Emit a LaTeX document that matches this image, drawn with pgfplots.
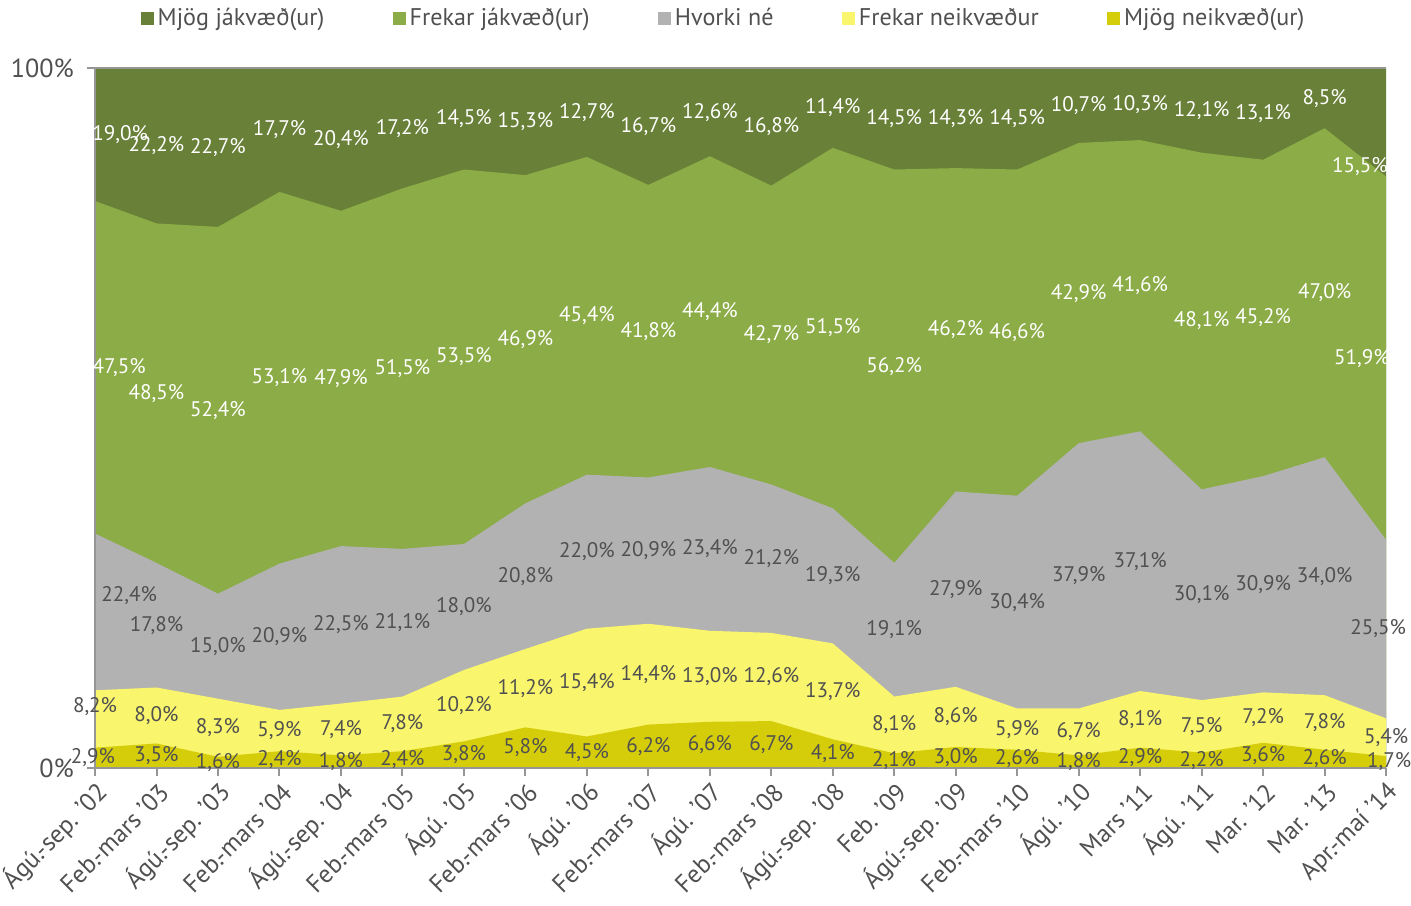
\documentclass[border=0pt]{standalone}
\usepackage{pgfplots}
\pgfplotsset{compat=1.18}
\usepackage{pgfplotstable}
\usepackage{fontspec}
\setmainfont{PT Sans}
\definecolor{cMJ}{RGB}{104,128,55}
\definecolor{cFJ}{RGB}{139,172,70}
\definecolor{cHN}{RGB}{178,178,178}
\definecolor{cFN}{RGB}{249,245,108}
\definecolor{cMN}{RGB}{214,205,10}
\definecolor{cTxt}{RGB}{80,80,80}
\definecolor{cAx}{RGB}{150,150,150}

\pgfplotstableread{
x a b c d e
0 2.9 8.2 22.4 47.5 19.0
1 3.5 8.0 17.8 48.5 22.2
2 1.6 8.3 15.0 52.4 22.7
3 2.4 5.9 20.9 53.1 17.7
4 1.8 7.4 22.5 47.9 20.4
5 2.4 7.8 21.1 51.5 17.2
6 3.8 10.2 18.0 53.5 14.5
7 5.8 11.2 20.8 46.9 15.3
8 4.5 15.4 22.0 45.4 12.7
9 6.2 14.4 20.9 41.8 16.7
10 6.6 13.0 23.4 44.4 12.6
11 6.7 12.6 21.2 42.7 16.8
12 4.1 13.7 19.3 51.5 11.4
13 2.1 8.1 19.1 56.2 14.5
14 3.0 8.6 27.9 46.2 14.3
15 2.6 5.9 30.4 46.6 14.5
16 1.8 6.7 37.9 42.9 10.7
17 2.9 8.1 37.1 41.6 10.3
18 2.2 7.5 30.1 48.1 12.1
19 3.6 7.2 30.9 45.2 13.1
20 2.6 7.8 34.0 47.0 8.5
21 1.7 5.4 25.5 51.9 15.5
}\data

\pgfplotsset{
  lbl/.style={draw=none, mark=none, forget plot, point meta=explicit,
    nodes near coords={\pgfmathprintnumber[fixed,fixed zerofill,precision=1,use comma]{\pgfplotspointmeta}\%},
    every node near coord/.append style={anchor=center, inner sep=0pt, text=#1,
      font=\fontsize{10.5}{12}\selectfont}},
  area/.style={fill=#1, draw=none}
}
% #1 colour, #2 y position, #3 meta column, #4 shift at first point, #5 shift at last point
\newcommand\lblplot[5]{%
  \addplot[lbl=#1, restrict x to domain=0.5:20.5] table[x=x, y expr=#2, meta=#3] {\data};
  \addplot[lbl=#1, restrict x to domain=-0.5:0.5, every node near coord/.append style={#4}] table[x=x, y expr=#2, meta=#3] {\data};
  \addplot[lbl=#1, restrict x to domain=20.5:21.5, every node near coord/.append style={#5}] table[x=x, y expr=#2, meta=#3] {\data};
}

\begin{document}
\begin{tikzpicture}
\begin{axis}[
  scale only axis, width=642.6pt, height=348.4pt,
  xmin=0, xmax=21, ymin=0, ymax=100,
  clip=false, axis on top,
  /pgf/number format/assume math mode=true,
  axis x line*=bottom, axis y line*=left,
  axis line style={cAx, line width=1pt},
  ymajorgrids, grid style={cAx, line width=1pt},
  tick align=outside, major tick length=4pt,
  tick style={cAx, line width=1pt},
  xtick={0,...,21},
  xticklabels={Ágú.-sep. '02,Feb.-mars '03,Ágú.-sep. '03,Feb.-mars '04,Ágú.-sep. '04,Feb.-mars '05,Ágú. '05,Feb.-mars '06,Ágú. '06,Feb.-mars '07,Ágú. '07,Feb.-mars '08,Ágú.-sep. '08,Feb. '09,Ágú.-sep. '09,Feb.-mars '10,Ágú. '10,Mars '11,Ágú. '11,Mar. '12,Mar. '13,Apr.-maí '14},
  xticklabel style={rotate=45, anchor=east, text=cTxt, font=\fontsize{12.5}{13}\selectfont, yshift=-7pt, xshift=2pt},
  ytick={0,100}, yticklabels={0\%,100\%},
  yticklabel style={text=cTxt, font=\fontsize{13}{14}\selectfont, xshift=-3pt},
  legend columns=5,
  legend style={at={(0.5,1)}, anchor=south, yshift=15.5pt, xshift=-8pt, draw=none, fill=none,
    text=cTxt, font=\fontsize{12}{13}\selectfont,
    nodes={inner sep=2pt},
    /tikz/every even column/.append style={column sep=32pt}},
  legend image code/.code={\fill[#1] (0pt,-3.25pt) rectangle (6.5pt,3.25pt);},
]
\addplot[area=cMJ] table[x=x, y expr=\thisrow{a}+\thisrow{b}+\thisrow{c}+\thisrow{d}+\thisrow{e}] {\data} \closedcycle;
\addlegendentry{Mjög jákvæð(ur)}
\addplot[area=cFJ] table[x=x, y expr=\thisrow{a}+\thisrow{b}+\thisrow{c}+\thisrow{d}] {\data} \closedcycle;
\addlegendentry{Frekar jákvæð(ur)}
\addplot[area=cHN] table[x=x, y expr=\thisrow{a}+\thisrow{b}+\thisrow{c}] {\data} \closedcycle;
\addlegendentry{Hvorki né}
\addplot[area=cFN] table[x=x, y expr=\thisrow{a}+\thisrow{b}] {\data} \closedcycle;
\addlegendentry{Frekar neikvæður}
\addplot[area=cMN] table[x=x, y=a] {\data} \closedcycle;
\addlegendentry{Mjög neikvæð(ur)}

\lblplot{cTxt}{\thisrow{a}/2}{a}{xshift=-1pt}{xshift=1.5pt}
\lblplot{cTxt}{\thisrow{a}+\thisrow{b}/2}{b}{yshift=6pt}{}
\lblplot{cTxt}{\thisrow{a}+\thisrow{b}+\thisrow{c}/2}{c}{xshift=17pt,yshift=8pt}{xshift=-4pt}
\lblplot{white}{\thisrow{a}+\thisrow{b}+\thisrow{c}+\thisrow{d}/2}{d}{xshift=12pt}{xshift=-12pt}
\lblplot{white}{\thisrow{a}+\thisrow{b}+\thisrow{c}+\thisrow{d}+\thisrow{e}/2}{e}{xshift=12.5pt}{xshift=-13pt,yshift=-22pt}

\coordinate (SW) at (rel axis cs:0,0);
\coordinate (NE) at (rel axis cs:1,1);
\end{axis}
\pgfresetboundingbox
\path[use as bounding box] ([shift={(-47.3pt,-68.2pt)}]SW) rectangle ([shift={(12.4pt,33.85pt)}]NE);
\end{tikzpicture}
\end{document}
